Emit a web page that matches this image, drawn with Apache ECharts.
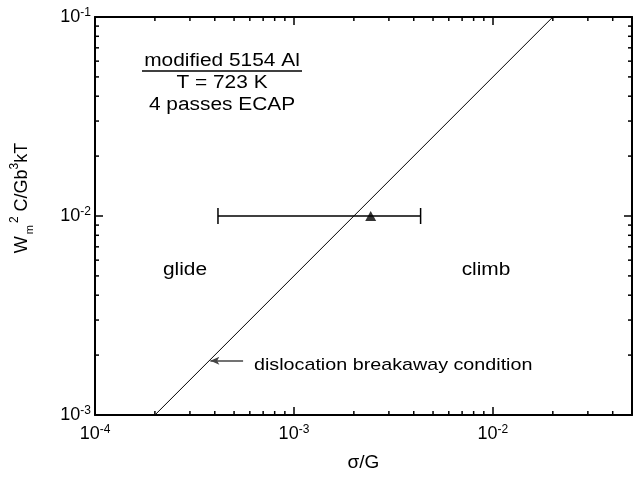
<!DOCTYPE html>
<html>
<head>
<meta charset="utf-8">
<script src="https://cdn.jsdelivr.net/npm/echarts@6/dist/echarts.min.js"></script>
<style>
  html, body { margin: 0; padding: 0; background: #fff; }
  #chart { width: 644px; height: 477px; }
</style>
</head>
<body>
<div id="chart"></div>
<script>
// breakaway condition line (slope 1 on log-log)
var lineX = [2e-4, 2e-2];
var lineY = [1e-3, 1e-1];

// measured point with horizontal error bar
var pointX = [2.43e-3];
var pointY = [1e-2];
var errLow = [4.15e-4];
var errHigh = [4.33e-3];

// axis ranges and minor tick positions
var xRange = [1e-4, 5e-2];
var yRange = [1e-3, 1e-1];
var xMinor = [2e-4, 3e-4, 4e-4, 5e-4, 6e-4, 7e-4, 8e-4, 9e-4,
              2e-3, 3e-3, 4e-3, 5e-3, 6e-3, 7e-3, 8e-3, 9e-3,
              2e-2, 3e-2, 4e-2];
var yMinor = [2e-3, 3e-3, 4e-3, 5e-3, 6e-3, 7e-3, 8e-3, 9e-3,
              2e-2, 3e-2, 4e-2, 5e-2, 6e-2, 7e-2, 8e-2, 9e-2];

var FONT = 'Liberation Sans, Arial, sans-serif';

var chart = echarts.init(document.getElementById('chart'));

function powLabel(v) {
    var l = Math.log10(v);
    var e = Math.round(l);
    if (Math.abs(l - e) > 1e-6) return '';
    return '10{sup|' + e + '}';
}

var labelRich = {
    sup: { fontSize: 12, fontFamily: FONT, color: '#000', verticalAlign: 'top', lineHeight: 20 }
};

function logAxis(pos, range, showLabel) {
    return {
        type: 'log',
        logBase: 10,
        position: pos,
        min: range[0],
        max: range[1],
        axisLine: { show: true, onZero: false, lineStyle: { color: '#000', width: 2 } },
        axisTick: { show: true, inside: true, length: 8, lineStyle: { color: '#000', width: 1.5 } },
        minorTick: { show: false },
        splitLine: { show: false },
        axisLabel: {
            show: showLabel,
            formatter: powLabel,
            color: '#000',
            fontSize: 18,
            fontFamily: FONT,
            lineHeight: 20,
            rich: labelRich,
            showMaxLabel: true,
            showMinLabel: true
        }
    };
}

var xBottom = logAxis('bottom', xRange, true);
xBottom.axisLabel.margin = 9;
xBottom.name = 'σ/G';
xBottom.nameLocation = 'middle';
xBottom.nameGap = 38;
xBottom.nameTextStyle = { color: '#000', fontSize: 19, fontFamily: FONT };
var xTop = logAxis('top', xRange, false);

var yLeft = logAxis('left', yRange, true);
yLeft.axisLabel.margin = 4;
yLeft.name = 'W{sub|m}{sup|2} C/Gb{sup|3}kT';
yLeft.nameLocation = 'middle';
yLeft.nameGap = 60;
yLeft.nameTextStyle = {
    color: '#000', fontSize: 18, fontFamily: FONT, padding: [0, 0, 0, 36],
    rich: {
        sub: { fontSize: 11, fontFamily: FONT, color: '#000', verticalAlign: 'bottom', lineHeight: 26, padding: [0, 2, 0, 2] },
        sup: { fontSize: 12, fontFamily: FONT, color: '#000', verticalAlign: 'top', lineHeight: 20 }
    }
};
var yRight = logAxis('right', yRange, false);

function minorTickItem(isX) {
    return function (params, api) {
        var v = api.value(isX ? 0 : 1);
        var a, b;
        if (isX) {
            a = api.coord([v, yRange[0]]);
            b = api.coord([v, yRange[1]]);
            return { type: 'group', children: [
                { type: 'line', shape: { x1: a[0], y1: a[1], x2: a[0], y2: a[1] - 4 }, style: { stroke: '#000', lineWidth: 1.5 } },
                { type: 'line', shape: { x1: b[0], y1: b[1], x2: b[0], y2: b[1] + 4 }, style: { stroke: '#000', lineWidth: 1.5 } }
            ]};
        }
        a = api.coord([xRange[0], v]);
        b = api.coord([xRange[1], v]);
        return { type: 'group', children: [
            { type: 'line', shape: { x1: a[0], y1: a[1], x2: a[0] + 4, y2: a[1] }, style: { stroke: '#000', lineWidth: 1.5 } },
            { type: 'line', shape: { x1: b[0], y1: b[1], x2: b[0] - 4, y2: b[1] }, style: { stroke: '#000', lineWidth: 1.5 } }
        ]};
    };
}

// annotation text, slightly stretched sideways like the original
function note(txt, x, y, size, align) {
    return {
        type: 'text', x: x, y: y, scaleX: 1.16,
        style: { text: txt, font: size + 'px ' + FONT, fill: '#000', textAlign: align || 'center', textVerticalAlign: 'middle' }
    };
}

var option = {
    animation: false,
    backgroundColor: '#fff',
    textStyle: { fontFamily: FONT },
    grid: { left: 95, right: 12, top: 17, bottom: 57 },
    xAxis: [xBottom, xTop],
    yAxis: [yLeft, yRight],
    graphic: [
        note('modified 5154 Al', 222, 61, 18),
        { type: 'line', shape: { x1: 142, y1: 71, x2: 302, y2: 71 }, style: { stroke: '#000', lineWidth: 1.5 } },
        note('T = 723 K', 222, 83, 18),
        note('4 passes ECAP', 222, 105, 18),
        note('glide', 185, 270, 18),
        note('climb', 486, 270, 18),
        note('dislocation breakaway condition', 254, 365, 17, 'left')
    ],
    series: [
        {
            name: 'breakaway',
            type: 'line',
            xAxisIndex: 0,
            yAxisIndex: 0,
            showSymbol: false,
            symbol: 'none',
            lineStyle: { color: '#000', width: 1 },
            data: lineX.map(function (x, i) { return [x, lineY[i]]; }),
            markLine: {
                silent: true,
                symbol: ['none', 'arrow'],
                symbolSize: [6, 9],
                label: { show: false },
                lineStyle: { color: '#444', width: 1.5, type: 'solid' },
                data: [[{ coord: [5.55e-4, 1.875e-3] }, { coord: [3.8e-4, 1.875e-3] }]]
            }
        },
        {
            name: 'error',
            type: 'custom',
            xAxisIndex: 0,
            yAxisIndex: 0,
            clip: false,
            data: pointY.map(function (y, i) { return [errLow[i], errHigh[i], y]; }),
            encode: { x: [0, 1], y: 2 },
            renderItem: function (params, api) {
                var p0 = api.coord([api.value(0), api.value(2)]);
                var p1 = api.coord([api.value(1), api.value(2)]);
                var st = { stroke: '#000', lineWidth: 1.5 };
                return { type: 'group', children: [
                    { type: 'line', shape: { x1: p0[0], y1: p0[1], x2: p1[0], y2: p1[1] }, style: st },
                    { type: 'line', shape: { x1: p0[0], y1: p0[1] - 8, x2: p0[0], y2: p0[1] + 8 }, style: st },
                    { type: 'line', shape: { x1: p1[0], y1: p1[1] - 8, x2: p1[0], y2: p1[1] + 8 }, style: st }
                ]};
            }
        },
        {
            name: 'point',
            type: 'scatter',
            xAxisIndex: 0,
            yAxisIndex: 0,
            symbol: 'triangle',
            symbolSize: [11, 10],
            itemStyle: { color: '#000' },
            z: 5,
            data: pointX.map(function (x, i) { return [x, pointY[i]]; })
        },
        {
            name: 'xminor',
            type: 'custom',
            silent: true,
            clip: false,
            xAxisIndex: 0,
            yAxisIndex: 0,
            data: xMinor.map(function (v) { return [v, yRange[0]]; }),
            renderItem: minorTickItem(true)
        },
        {
            name: 'yminor',
            type: 'custom',
            silent: true,
            clip: false,
            xAxisIndex: 0,
            yAxisIndex: 0,
            data: yMinor.map(function (v) { return [xRange[0], v]; }),
            renderItem: minorTickItem(false)
        }
    ]
};

chart.setOption(option);
</script>
</body>
</html>
